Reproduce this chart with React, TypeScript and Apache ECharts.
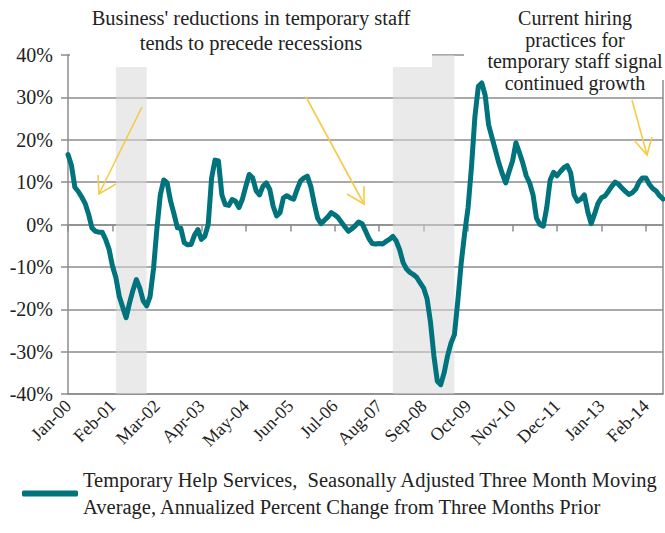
import React, { useEffect, useRef } from "react";
import * as echarts from "echarts";

const MONTH_NAMES = ["Jan", "Feb", "Mar", "Apr", "May", "Jun", "Jul", "Aug", "Sep", "Oct", "Nov", "Dec"];
const START_YEAR = 0; // 2000

// Monthly values, Jan-00 .. Jul-14 (annualized % change)
const TEMP_HELP = [
  16.5, 14.0, 8.8, 7.8, 6.5, 5.0, 2.5, -0.8, -1.6, -1.8, -1.8, -3.5,
  -5.8, -9.8, -12.5, -17.0, -19.5, -22.0, -18.5, -15.5, -13.0, -15.0, -18.0, -19.2,
  -17.0, -10.5, -1.0, 7.0, 10.5, 9.8, 5.5, 2.5, -0.8, -0.9, -4.3, -4.8,
  -4.7, -2.5, -1.2, -3.5, -2.8, 0.0, 11.0, 15.2, 15.0, 7.0, 4.7, 4.5,
  5.9, 5.5, 4.0, 6.0, 9.0, 11.8, 11.0, 8.0, 7.0, 9.0, 9.8, 8.3,
  4.3, 2.0, 2.8, 6.3, 6.8, 6.3, 6.0, 8.3, 10.3, 11.0, 11.4, 9.0,
  5.0, 1.5, 0.2, 1.0, 1.8, 2.8, 2.3, 1.6, 0.5, -0.6, -1.6, -1.0,
  -0.3, 0.6, 0.2, -1.5, -3.3, -4.5, -4.6, -4.5, -4.6, -4.0, -3.5, -2.8,
  -3.9, -6.0, -9.0, -10.5, -11.3, -11.8, -12.5, -13.8, -15.0, -17.5, -23.0, -31.0,
  -37.0, -37.8, -35.0, -31.0, -28.0, -26.0, -18.0, -9.0, -2.0, 4.0, 13.7, 25.5,
  32.6, 33.4, 30.5, 23.5, 20.5, 17.5, 14.5, 12.0, 9.8, 12.5, 15.0, 19.3,
  17.0, 14.5, 11.5, 9.8, 7.0, 1.5, 0.0, -0.4, 4.0, 10.5, 12.3, 11.5,
  12.5, 13.4, 13.9, 12.2, 7.0, 5.5, 6.0, 7.0, 3.0, 0.2, 2.5, 5.0,
  6.3, 6.7, 7.8, 9.0, 10.0, 9.5, 8.6, 7.8, 7.1, 7.5, 8.3, 10.0,
  11.0, 11.0, 9.5, 8.5, 7.9, 6.8, 6.0,
];

const CATEGORIES = TEMP_HELP.map((_, i) => {
  const yr = START_YEAR + Math.floor(i / 12);
  return MONTH_NAMES[i % 12] + "-" + String(yr).padStart(2, "0");
});

const RECESSIONS = [
  ["Mar-01", "Dec-01"],
  ["Dec-07", "Jun-09"],
];

const Y_MIN = -40;
const Y_MAX = 40;
const Y_STEP = 10;

const SERIES_NAME = "Temporary Help Services,  Seasonally Adjusted Three Month Moving Average, Annualized Percent Change from Three Months Prior";
const LEGEND_LINE1 = "Temporary Help Services,  Seasonally Adjusted Three Month Moving";
const LEGEND_LINE2 = "Average, Annualized Percent Change from Three Months Prior";

const NOTE_LEFT = "Business' reductions in temporary staff\ntends to precede recessions";
const NOTE_RIGHT = "Current hiring\npractices for\ntemporary staff signal\ncontinued growth";

const FONT = "Liberation Serif";
const GRID_GREY = "#8c8c8c";
const TEAL = "#00737D";
const ARROW = "#F7CB45";
const TEXT = "#222222";

function arrow(x1: number, y1: number, x2: number, y2: number, w1: number[], w2: number[]) {
  return [
    {
      type: "line",
      z: 110,
      shape: { x1, y1, x2, y2 },
      style: { stroke: ARROW, lineWidth: 1.6 },
    },
    {
      type: "polyline",
      z: 110,
      shape: { points: [w1, [x2, y2], w2] },
      style: { stroke: ARROW, lineWidth: 1.6, fill: null },
    },
  ];
}

export default function App() {
  const ref = useRef<HTMLDivElement>(null);

  useEffect(() => {
    if (!ref.current) return;
    const chart = echarts.init(ref.current, null, { renderer: "svg" });
    chart.setOption({
      animation: false,
      backgroundColor: "#ffffff",
      textStyle: { fontFamily: FONT },
      grid: {
        left: 68,
        right: 2,
        top: 55,
        bottom: 139,
      },
      legend: {
        left: 22,
        top: 453,
        padding: 0,
        itemWidth: 56,
        itemHeight: 6,
        icon: "roundRect",
        data: [SERIES_NAME],
        formatter: () => LEGEND_LINE1 + "\n" + LEGEND_LINE2,
        textStyle: {
          fontFamily: FONT,
          fontSize: 20.5,
          color: TEXT,
          lineHeight: 27,
          padding: [27, 0, 0, 0],
        },
      },
      xAxis: [
        {
          type: "category",
          data: CATEGORIES,
          boundaryGap: false,
          position: "bottom",
          axisLine: { show: true, onZero: false, lineStyle: { color: GRID_GREY, width: 1.5 } },
          axisTick: { show: false },
          axisLabel: {
            interval: 12,
            rotate: 45,
            fontFamily: FONT,
            fontSize: 18,
            color: TEXT,
            margin: 9,
          },
          splitLine: { show: false },
        },
        {
          type: "category",
          data: CATEGORIES,
          boundaryGap: false,
          position: "bottom",
          axisLine: { show: true, onZero: true, lineStyle: { color: GRID_GREY, width: 1.5 } },
          axisTick: { show: true, interval: 12, length: 7, inside: false, lineStyle: { color: GRID_GREY, width: 1.5 } },
          axisLabel: { show: false },
          splitLine: { show: false },
        },
      ],
      yAxis: [
        {
          type: "value",
          min: Y_MIN,
          max: Y_MAX,
          interval: Y_STEP,
          axisLine: { show: true, lineStyle: { color: GRID_GREY, width: 1.5 } },
          axisTick: { show: true, length: 7, lineStyle: { color: GRID_GREY, width: 1.5 } },
          axisLabel: {
            formatter: "{value}%",
            fontFamily: FONT,
            fontSize: 20,
            color: TEXT,
            margin: 15,
          },
          splitLine: { show: true, lineStyle: { color: GRID_GREY, width: 1.5 } },
        },
        {
          type: "value",
          position: "right",
          min: Y_MIN,
          max: Y_MAX,
          interval: Y_STEP,
          axisLine: { show: true, onZero: false, lineStyle: { color: GRID_GREY, width: 1.5 } },
          axisTick: { show: false },
          axisLabel: { show: false },
          splitLine: { show: false },
        },
      ],
      series: [
        {
          name: SERIES_NAME,
          type: "line",
          xAxisIndex: 0,
          yAxisIndex: 0,
          data: TEMP_HELP,
          showSymbol: false,
          symbol: "none",
          color: TEAL,
          lineStyle: { color: TEAL, width: 5, cap: "round", join: "round" },
          markArea: {
            silent: true,
            itemStyle: { color: "rgba(217,217,217,0.55)" },
            data: RECESSIONS.map(([a, b]) => [{ xAxis: a }, { xAxis: b }]),
          },
          z: 3,
        },
      ],
      graphic: [
        {
          type: "rect",
          z: 100,
          shape: { x: 70, y: 0, width: 362, height: 67 },
          style: { fill: "#ffffff" },
        },
        {
          type: "rect",
          z: 100,
          shape: { x: 464, y: 0, width: 201, height: 80 },
          style: { fill: "#ffffff" },
        },
        {
          type: "text",
          z: 105,
          x: 251,
          y: 5.5,
          style: {
            text: NOTE_LEFT,
            fontFamily: FONT,
            fontSize: 20.5,
            fill: TEXT,
            align: "center",
            textAlign: "center",
            verticalAlign: "top",
            textVerticalAlign: "top",
            lineHeight: 25,
          },
        },
        {
          type: "text",
          z: 105,
          x: 575,
          y: 7.3,
          style: {
            text: NOTE_RIGHT,
            fontFamily: FONT,
            fontSize: 20,
            fill: TEXT,
            align: "center",
            textAlign: "center",
            verticalAlign: "top",
            textVerticalAlign: "top",
            lineHeight: 21.5,
          },
        },
        ...arrow(142, 107, 99, 194, [98, 175], [116, 184]),
        ...arrow(306, 97, 364, 204, [364, 186], [347, 194]),
        ...arrow(632, 100, 647, 155, [652, 137], [634, 140]),
      ],
    });
    return () => chart.dispose();
  }, []);

  return (
    <div
      ref={ref}
      style={{ position: "fixed", left: 0, top: 0, width: 665, height: 533, background: "#fff" }}
    />
  );
}
